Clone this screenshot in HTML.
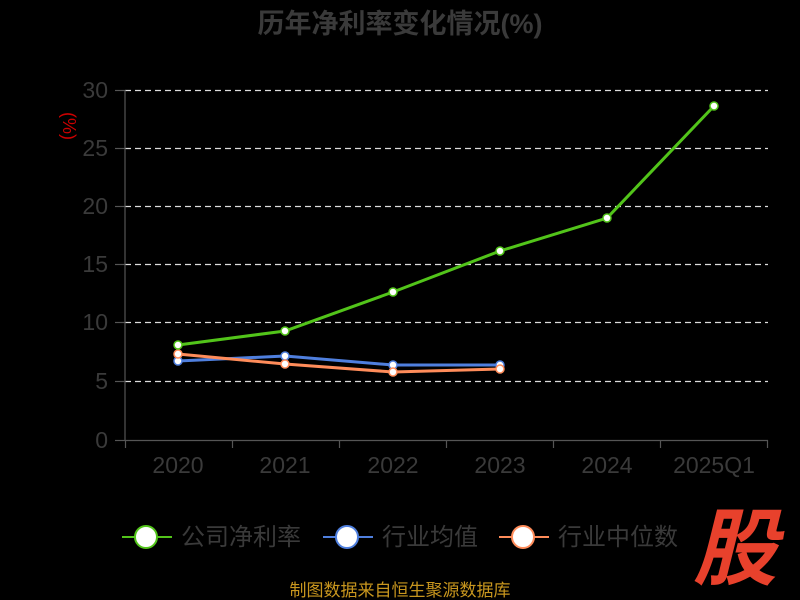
<!DOCTYPE html>
<html><head><meta charset="utf-8"><style>
html,body{margin:0;padding:0;background:#000;}
svg{display:block;font-family:"Liberation Sans","Noto Sans CJK SC",sans-serif;}
</style></head><body>
<svg width="800" height="600" viewBox="0 0 800 600">
<rect width="800" height="600" fill="#000"/>
<text x="400" y="33" text-anchor="middle" font-size="27" font-weight="bold" fill="#3a3a3a">历年净利率变化情况(%)</text>
<text x="63" y="126" font-size="18" fill="#cc0000" text-anchor="middle" transform="rotate(90 63 126)" dy="0">(%)</text>
<g stroke="#ddd" stroke-dasharray="6,4" stroke-width="1.2">
<line x1="125" x2="768" y1="90.5" y2="90.5"/><line x1="125" x2="768" y1="148.5" y2="148.5"/>
<line x1="125" x2="768" y1="206.5" y2="206.5"/><line x1="125" x2="768" y1="264.5" y2="264.5"/>
<line x1="125" x2="768" y1="322.5" y2="322.5"/><line x1="125" x2="768" y1="381.5" y2="381.5"/>
</g>
<g stroke="#555" stroke-width="1.2">
<line x1="125" x2="125" y1="90" y2="440"/><line x1="125" x2="768" y1="440.5" y2="440.5"/>
<line x1="115" x2="125" y1="90.5" y2="90.5"/><line x1="115" x2="125" y1="148.5" y2="148.5"/><line x1="115" x2="125" y1="206.5" y2="206.5"/><line x1="115" x2="125" y1="264.5" y2="264.5"/><line x1="115" x2="125" y1="322.5" y2="322.5"/><line x1="115" x2="125" y1="381.5" y2="381.5"/><line x1="115" x2="125" y1="440.5" y2="440.5"/>
<line x1="125.5" x2="125.5" y1="440" y2="448"/><line x1="232.5" x2="232.5" y1="440" y2="448"/><line x1="339.5" x2="339.5" y1="440" y2="448"/><line x1="446.5" x2="446.5" y1="440" y2="448"/><line x1="553.5" x2="553.5" y1="440" y2="448"/><line x1="660.5" x2="660.5" y1="440" y2="448"/><line x1="767.5" x2="767.5" y1="440" y2="448"/>
</g>
<g font-size="23" fill="#3a3a3a" text-anchor="end">
<text x="108" y="98">30</text><text x="108" y="156">25</text><text x="108" y="214">20</text><text x="108" y="272">15</text><text x="108" y="330">10</text><text x="108" y="389">5</text><text x="108" y="448">0</text>
</g>
<g font-size="23" fill="#3a3a3a" text-anchor="middle">
<text x="178" y="473">2020</text><text x="285" y="473">2021</text><text x="393" y="473">2022</text><text x="500" y="473">2023</text><text x="607" y="473">2024</text><text x="714" y="473">2025Q1</text>
</g>
<g fill="#fff" stroke-width="1.5">
<polyline fill="none" stroke-width="3" stroke="#4f7fde" points="178,361 285,356 393,365 500,365"/>
<polyline fill="none" stroke="#ff8c5a" stroke-width="3" points="178,354 285,364 393,372 500,369"/>
<polyline fill="none" stroke="#52c41a" stroke-width="3" points="178,345 285,331 393,292 500,251 607,218 714,106"/>
<g stroke="#4f7fde"><circle cx="178" cy="361" r="4"/><circle cx="285" cy="356" r="4"/><circle cx="393" cy="365" r="4"/><circle cx="500" cy="365" r="4"/></g>
<g stroke="#ff8c5a"><circle cx="178" cy="354" r="4"/><circle cx="285" cy="364" r="4"/><circle cx="393" cy="372" r="4"/><circle cx="500" cy="369" r="4"/></g>
<g stroke="#52c41a"><circle cx="178" cy="345" r="4"/><circle cx="285" cy="331" r="4"/><circle cx="393" cy="292" r="4"/><circle cx="500" cy="251" r="4"/><circle cx="607" cy="218" r="4"/><circle cx="714" cy="106" r="4"/></g>
</g>
<g stroke-width="2">
<line x1="122" x2="172" y1="537" y2="537" stroke="#52c41a"/><circle cx="146" cy="537" r="11" fill="#fff" stroke="#52c41a"/>
<line x1="323" x2="373" y1="537" y2="537" stroke="#4f7fde"/><circle cx="347" cy="537" r="11" fill="#fff" stroke="#4f7fde"/>
<line x1="499" x2="549" y1="537" y2="537" stroke="#ff8c5a"/><circle cx="523" cy="537" r="11" fill="#fff" stroke="#ff8c5a"/>
</g>
<g font-size="24" fill="#3a3a3a">
<text x="181" y="545">公司净利率</text><text x="382" y="545">行业均值</text><text x="558" y="545">行业中位数</text>
</g>
<text x="735" y="578" text-anchor="middle" font-size="84" font-weight="bold" font-style="italic" fill="#e8412c">股</text>
<text x="400" y="596" text-anchor="middle" font-size="17" fill="#c8961e">制图数据来自恒生聚源数据库</text>
</svg>
</body></html>
